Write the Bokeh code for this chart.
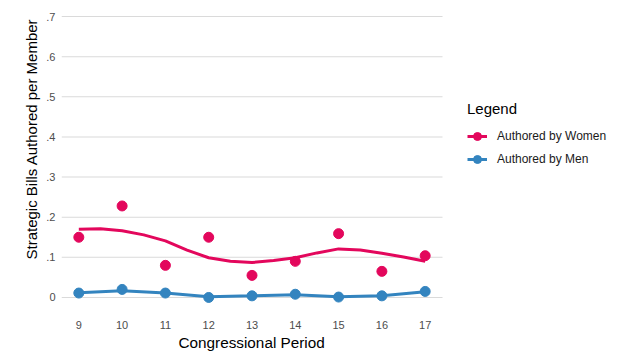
from bokeh.plotting import figure
from bokeh.models import Range1d, FixedTicker, Legend, LegendItem, Title
from bokeh.embed import file_html
from bokeh.resources import INLINE

# ---- data ----
periods = [9, 10, 11, 12, 13, 14, 15, 16, 17]
women = [0.150, 0.228, 0.080, 0.150, 0.055, 0.090, 0.159, 0.065, 0.104]
men = [0.011, 0.020, 0.011, 0.000, 0.004, 0.008, 0.001, 0.004, 0.015]

# smoothed (loess) curves
smooth_x = [9, 9.5, 10, 10.5, 11, 11.5, 12, 12.5, 13, 13.5, 14, 14.5, 15, 15.5, 16, 16.5, 17]
women_smooth = [0.170, 0.171, 0.166, 0.156, 0.141, 0.118, 0.099, 0.090, 0.087,
                0.092, 0.099, 0.111, 0.121, 0.118, 0.110, 0.101, 0.090]
men_smooth_x = [9, 10, 11, 12, 13, 14, 15, 16, 17]
men_smooth = [0.012, 0.017, 0.011, 0.002, 0.004, 0.007, 0.002, 0.004, 0.014]

y_ticks = [0, 0.1, 0.2, 0.3, 0.4, 0.5, 0.6, 0.7]
y_tick_labels = ["0", ".1", ".2", ".3", ".4", ".5", ".6", ".7"]
x_title = "Congressional Period"
y_title = "Strategic Bills Authored per Member"
legend_title = "Legend"
series_names = ["Authored by Women", "Authored by Men"]

PINK = "#E3075C"
BLUE = "#3384BF"
FONT = "Liberation Sans"

# layout: panel spans x 8.6..17.4 over 381 px; frame extended to the right
# edge so the legend (drawn in the frame) is not clipped
W, H = 624, 357
LEFT, TOP, BOTTOM = 61, 2, 46
PANEL_W = 381
X0, X1 = 8.6, 17.4
x_end = X0 + (X1 - X0) * (W - LEFT) / PANEL_W

p = figure(width=W, height=H, output_backend="svg", toolbar_location=None,
           x_range=Range1d(X0, x_end), y_range=Range1d(-0.035, 0.735),
           min_border_left=LEFT, min_border_right=0, min_border_top=TOP,
           min_border_bottom=BOTTOM)
p.outline_line_color = None
p.background_fill_color = "white"
p.border_fill_color = "white"

# grid (only across the panel)
p.xgrid.grid_line_color = None
p.ygrid.grid_line_color = None
p.segment(x0=[X0] * len(y_ticks), x1=[X1] * len(y_ticks), y0=y_ticks, y1=y_ticks,
          line_color="#DADADA", line_width=1.1)

# axes
p.xaxis.ticker = FixedTicker(ticks=periods)
p.yaxis.ticker = FixedTicker(ticks=y_ticks)
p.yaxis.major_label_overrides = {t: l for t, l in zip(y_ticks, y_tick_labels)}
for ax in (p.xaxis[0], p.yaxis[0]):
    ax.axis_line_color = None
    ax.major_tick_line_color = None
    ax.minor_tick_line_color = None
    ax.major_tick_in = 0
    ax.major_tick_out = 0
    ax.major_label_text_font = FONT
    ax.major_label_text_font_size = "11px"
    ax.major_label_text_color = "#4D4D4D"
p.yaxis.major_label_standoff = 6
p.xaxis.major_label_standoff = 9

# series
w_line = p.line(smooth_x, women_smooth, line_color=PINK, line_width=3)
w_pts = p.scatter(periods, women, size=10, fill_color=PINK, line_color=PINK)
m_line = p.line(men_smooth_x, men_smooth, line_color=BLUE, line_width=3)
m_pts = p.scatter(periods, men, size=10, fill_color=BLUE, line_color=BLUE)

# axis titles as side titles, positioned like the reference
ytitle = Title(text=y_title, align="left", offset=52, standoff=8,
               text_font=FONT, text_font_size="15px", text_font_style="normal",
               text_color="#000000")
p.add_layout(ytitle, "left")
xtitle = Title(text=x_title, align="left", offset=117, standoff=0,
               text_font=FONT, text_font_size="15.3px", text_font_style="normal",
               text_color="#000000")
p.add_layout(xtitle, "below")

legend = Legend(items=[LegendItem(label=series_names[0], renderers=[w_line, w_pts]),
                       LegendItem(label=series_names[1], renderers=[m_line, m_pts])],
                location=(406, 142), title=legend_title,
                title_text_font=FONT, title_text_font_size="15px",
                title_text_font_style="normal", title_text_color="#000000",
                title_standoff=9,
                label_text_font=FONT, label_text_font_size="12px",
                label_text_color="#1A1A1A",
                glyph_width=20, glyph_height=20, label_height=20,
                label_standoff=10, spacing=3, padding=0, margin=0,
                border_line_color=None, background_fill_alpha=0)
p.add_layout(legend)

open("out.html", "w").write(file_html(p, INLINE))
